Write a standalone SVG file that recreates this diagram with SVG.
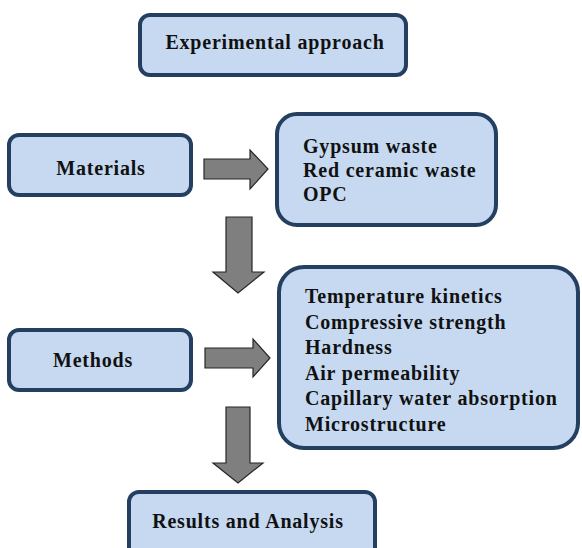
<svg xmlns="http://www.w3.org/2000/svg" width="582" height="548" viewBox="0 0 582 548">
<style>
.box{fill:#c6d9f1;stroke:#243f60;stroke-width:4}
.t{font-family:'Liberation Serif','DejaVu Serif',serif;font-weight:bold;font-size:20px;letter-spacing:0.8px;fill:#111}
.c{text-anchor:middle}
.arr{fill:#7f7f7f;stroke:#262626;stroke-width:1.2;stroke-linejoin:miter}
</style>
<rect width="582" height="548" fill="#ffffff"/>
<g id="connectors">
<polygon class="arr" points="204,159 250,159 250,150 268,169 250,189 250,179 204,179"/>
<polygon class="arr" points="226,217 252,217 252,272 264,272 238,293 213,272 226,272"/>
<polygon class="arr" points="205,348 253,348 253,339 270,358 253,377 253,368 205,368"/>
<polygon class="arr" points="226,407 250,407 250,463 263,463 238,483 213,463 226,463"/>
</g>
<g id="experimental">
<rect class="box" x="140" y="15" width="266" height="60" rx="10"/>
<text class="t c" x="275" y="49">Experimental approach</text>
</g>
<g id="materials">
<rect class="box" x="9" y="135" width="182" height="60" rx="10"/>
<text class="t c" x="101" y="175">Materials</text>
</g>
<g id="materials-list">
<rect class="box" x="277" y="114" width="219" height="111" rx="20"/>
<text class="t" x="303" y="153">Gypsum waste</text>
<text class="t" x="303" y="177">Red ceramic waste</text>
<text class="t" x="303" y="201">OPC</text>
</g>
<g id="methods">
<rect class="box" x="9" y="330" width="182" height="60" rx="10"/>
<text class="t c" x="93" y="367">Methods</text>
</g>
<g id="methods-list">
<rect class="box" x="279" y="267" width="299" height="181" rx="25"/>
<text class="t" x="305" y="303">Temperature kinetics</text>
<text class="t" x="305" y="328.5">Compressive strength</text>
<text class="t" x="305" y="354">Hardness</text>
<text class="t" x="305" y="379.5">Air permeability</text>
<text class="t" x="305" y="405">Capillary water absorption</text>
<text class="t" x="305" y="430.5">Microstructure</text>
</g>
<g id="results">
<rect class="box" x="129" y="492" width="246" height="80" rx="10"/>
<text class="t c" x="248" y="528">Results and Analysis</text>
</g>
</svg>
